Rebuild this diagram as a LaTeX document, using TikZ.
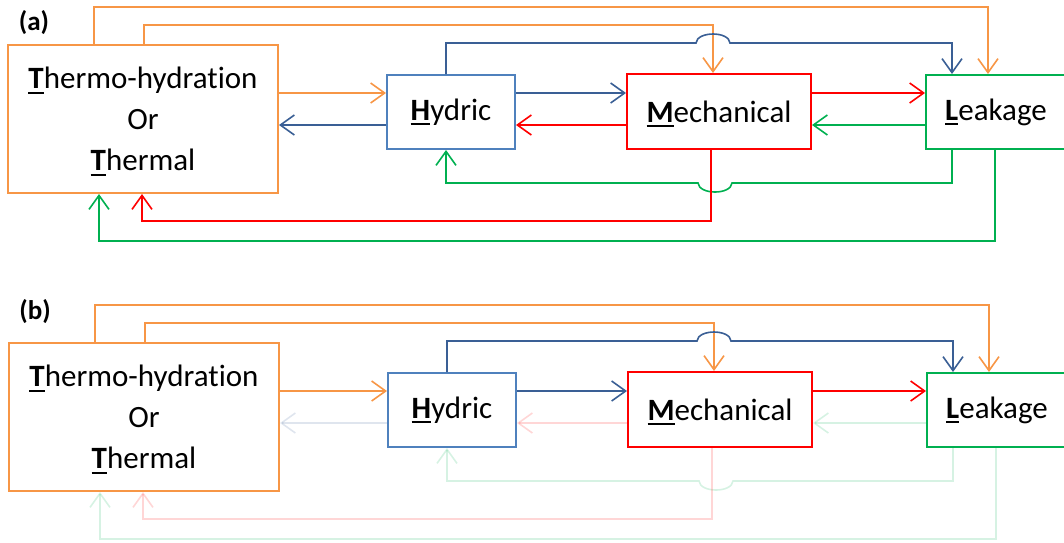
\documentclass[tikz,border=0pt]{standalone}
\usepackage{fontspec}
\setmainfont{Carlito}[Ligatures=NoCommon]
\usepackage{xcolor}
\usepackage{tikz}
\usetikzlibrary{arrows.meta, positioning}

\definecolor{torange}{HTML}{F79646}
\definecolor{hblue}{HTML}{4F81BD}
\definecolor{darkblue}{HTML}{3A5F95}
\definecolor{mred}{HTML}{FF0000}
\definecolor{lgreen}{HTML}{00B050}

\newcommand{\ul}[1]{{\setbox0\hbox{\textbf{#1}}\rlap{\smash{\rule[-5pt]{\wd0}{2pt}}}\box0}}

\begin{document}
\begin{tikzpicture}[x=1pt,y=-1pt]
\tikzstyle{box}=[draw,line width=2pt,fill=white,inner sep=0pt,font=\fontsize{31}{41}\selectfont,align=center]
\tikzstyle{panel}=[font=\fontsize{27}{30}\selectfont\bfseries]
\tikzstyle{link}=[line width=1.6pt,-{Straight Barb[length=14pt,width=20pt]}]
\tikzstyle{oarr}=[link,torange]
\tikzstyle{barr}=[link,darkblue]
\tikzstyle{rarr}=[link,mred]
\tikzstyle{garr}=[link,lgreen]
\tikzstyle{faded}=[draw opacity=0.16]

\useasboundingbox (0,0) rectangle (1064,542);

% (a) all couplings
\node[panel] (laba) at (34,23) {(a)};
\node[box,draw=torange,minimum width=270,minimum height=148] (Ta) at (143,119) {\ul{T}hermo-hydration\\Or\\\ul{T}hermal};
\node[box,draw=hblue,minimum width=128,minimum height=74] (Ha) at (451,112) {\ul{H}ydric};
\node[box,draw=mred,minimum width=184,minimum height=75] (Ma) at (719,111.5) {\ul{M}echanical};
\node[box,draw=lgreen,minimum width=140,minimum height=74] (La) at (996,112) {\ul{L}eakage};

\draw[oarr] (94,0 |- Ta.north) -- (94,7) -| (988,0 |- La.north);
\draw[oarr] (144,0 |- Ta.north) -- (144,25) -| (713,0 |- Ma.north);
\draw[barr] (446,0 |- Ha.north) -- (446,43) -- (696,43) .. controls (697,31) and (729,31) .. (730,43) -| (952,0 |- La.north);
\draw[oarr] (Ta.east |- 0,93) -- (Ha.west |- 0,93);
\draw[barr] (Ha.west |- 0,125) -- (Ta.east |- 0,125);
\draw[barr] (Ha.east |- 0,93) -- (Ma.west |- 0,93);
\draw[rarr] (Ma.west |- 0,125) -- (Ha.east |- 0,125);
\draw[rarr] (Ma.east |- 0,93) -- (La.west |- 0,93);
\draw[garr] (La.west |- 0,125) -- (Ma.east |- 0,125);
\draw[garr] (952,0 |- La.south) -- (952,183) -- (732,183) .. controls (731,195) and (699,195) .. (698,183) -| (446,0 |- Ha.south);
\draw[rarr] (711,0 |- Ma.south) -- (711,221) -| (142,0 |- Ta.south);
\draw[garr] (995,0 |- La.south) -- (995,241) -| (99,0 |- Ta.south);

% (b) one-way couplings, feedback faded
\begin{scope}[shift={(1,298)}]
\node[panel] (labb) at (34,14) {(b)};
\node[box,draw=torange,minimum width=270,minimum height=148] (Tb) at (143,119) {\ul{T}hermo-hydration\\Or\\\ul{T}hermal};
\node[box,draw=hblue,minimum width=128,minimum height=74] (Hb) at (451,112) {\ul{H}ydric};
\node[box,draw=mred,minimum width=184,minimum height=75] (Mb) at (719,111.5) {\ul{M}echanical};
\node[box,draw=lgreen,minimum width=140,minimum height=74] (Lb) at (996,112) {\ul{L}eakage};

\draw[oarr] (94,0 |- Tb.north) -- (94,7) -| (988,0 |- Lb.north);
\draw[oarr] (144,0 |- Tb.north) -- (144,25) -| (713,0 |- Mb.north);
\draw[barr] (446,0 |- Hb.north) -- (446,43) -- (696,43) .. controls (697,31) and (729,31) .. (730,43) -| (952,0 |- Lb.north);
\draw[oarr] (Tb.east |- 0,93) -- (Hb.west |- 0,93);
\draw[barr,faded] (Hb.west |- 0,125) -- (Tb.east |- 0,125);
\draw[barr] (Hb.east |- 0,93) -- (Mb.west |- 0,93);
\draw[rarr,faded] (Mb.west |- 0,125) -- (Hb.east |- 0,125);
\draw[rarr] (Mb.east |- 0,93) -- (Lb.west |- 0,93);
\draw[garr,faded] (Lb.west |- 0,125) -- (Mb.east |- 0,125);
\draw[garr,faded] (952,0 |- Lb.south) -- (952,183) -- (732,183) .. controls (731,195) and (699,195) .. (698,183) -| (446,0 |- Hb.south);
\draw[rarr,faded] (711,0 |- Mb.south) -- (711,221) -| (142,0 |- Tb.south);
\draw[garr,faded] (995,0 |- Lb.south) -- (995,241) -| (99,0 |- Tb.south);
\end{scope}

\end{tikzpicture}
\end{document}
